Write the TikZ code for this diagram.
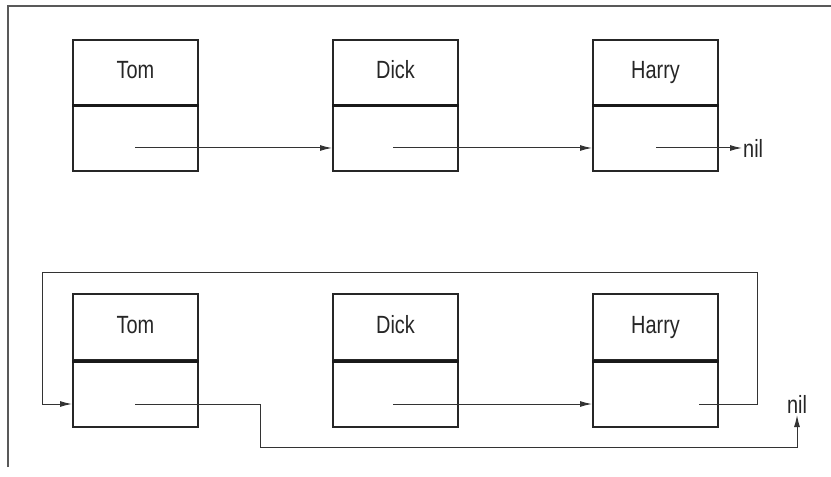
\documentclass[tikz,border=0pt]{standalone}
\usepackage{fontspec}
\setmainfont{Liberation Sans}[FakeStretch=0.8]
\usetikzlibrary{arrows.meta,calc}
\begin{document}
\begin{tikzpicture}[x=1bp,y=-1bp,
  namebox/.style={draw=black!85,line width=2bp,minimum width=125bp,minimum height=65bp,inner sep=0pt,anchor=north west,font=\fontsize{25}{29}\selectfont,text=black!85,text height=18bp,text depth=5bp},
  ptrbox/.style={draw=black!85,line width=2bp,minimum width=125bp,minimum height=66bp,inner sep=0pt,anchor=north west},
  divider/.style={draw=black!90,line width=3bp},
  link/.style={draw=black!80,line width=1bp,-{Latex[length=12bp,width=6bp]}},
  wire/.style={draw=black!80,line width=1bp},
  frameline/.style={draw=black!65,line width=1.5bp},
  niltext/.style={inner sep=1bp,font=\fontsize{25}{29}\selectfont,text=black!85}]
\useasboundingbox (0,0) rectangle (831,477);
\draw[frameline] (8,467) -- (8,6) -- (831,6);

% top row
\node[namebox] (tomA) at (72,39) {Tom};
\node[ptrbox] (tomAp) at (72,104) {};
\node[namebox] (dickA) at (332,39) {Dick};
\node[ptrbox] (dickAp) at (332,104) {};
\node[namebox] (harryA) at (592,39) {Harry};
\node[ptrbox] (harryAp) at (592,104) {};
\foreach \n in {tomA,dickA,harryA}{\draw[divider] (\n.south west) -- (\n.south east);}
\coordinate (tomAs) at (135,148);
\coordinate (dickAs) at (393,148);
\coordinate (harryAs) at (656,148);
\node[niltext,anchor=west] (nilA) at (742,148) {nil};
\draw[link] (tomAs) -- (tomAs -| dickAp.west);
\draw[link] (dickAs) -- (dickAs -| harryAp.west);
\draw[link] (harryAs) -- (nilA.west);

% bottom row
\node[namebox,minimum height=66bp] (tomB) at (72,293) {Tom};
\node[ptrbox,minimum height=67bp] (tomBp) at (72,359) {};
\node[namebox,minimum height=66bp] (dickB) at (332,293) {Dick};
\node[ptrbox,minimum height=67bp] (dickBp) at (332,359) {};
\node[namebox,minimum height=66bp] (harryB) at (592,293) {Harry};
\node[ptrbox,minimum height=67bp] (harryBp) at (592,359) {};
\foreach \n in {tomB,dickB,harryB}{\draw[divider] (\n.south west) -- (\n.south east);}
\coordinate (tomBs) at (135,404);
\coordinate (dickBs) at (393,404);
\coordinate (harryBs) at (699,404);
\node[niltext,anchor=south] (nilB) at (797,415) {nil};
\draw[link] (dickBs) -- (dickBs -| harryBp.west);
\draw[link] (harryBs) -- (757,404) -- (757,273) -- (42,273) -- (42,404) -- (tomBs -| tomBp.west);
\draw[link] (tomBs) -- (260,404) -- (260,447) -- (nilB.south |- 0,447) -- (nilB.south);
\end{tikzpicture}
\end{document}
